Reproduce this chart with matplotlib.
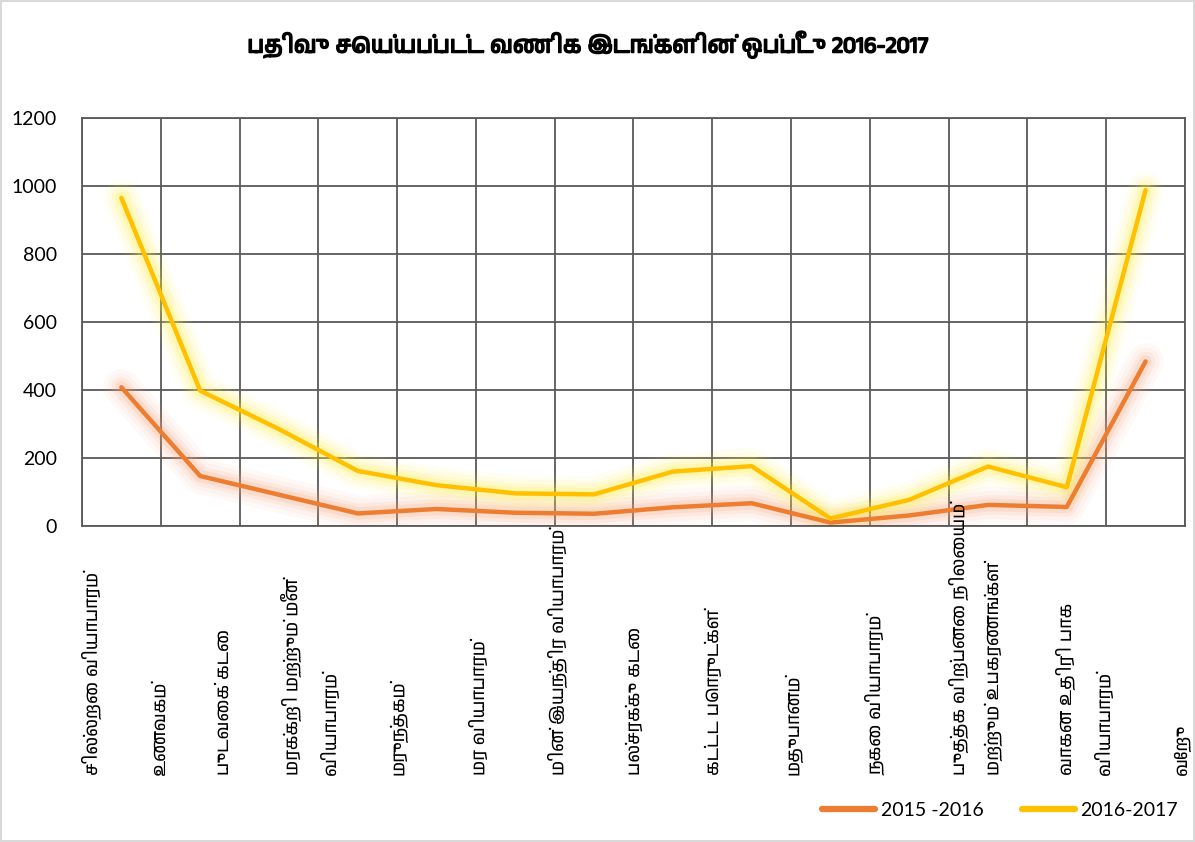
import matplotlib
matplotlib.use("Agg")
import matplotlib.pyplot as plt
import matplotlib.transforms as mtransforms
import matplotlib.patheffects as pe
from matplotlib import font_manager as fm

# data
categories = [
    "சில்லறை வியாபாரம்",
    "உணவகம்",
    "புடவைக் கடை",
    "மரக்கறி மற்றும் மீன்\nவியாபாரம்",
    "மருந்தகம்",
    "மர வியாபாரம்",
    "மின் இயந்திர வியாபாரம்",
    "பல்சரக்கு கடை",
    "கட்டட பொருட்கள்",
    "மதுபானம்",
    "நகை வியாபாரம்",
    "புத்தக விற்பனை நிலையம்\nமற்றும் உபகரணங்கள்",
    "வாகன உதிரி பாக\nவியாபாரம்",
    "வேறு",
]
y_2015_16 = [408, 147, 92, 37, 50, 39, 36, 55, 67, 10, 31, 62, 56, 484]
y_2016_17 = [965, 398, 285, 162, 120, 96, 93, 160, 176, 22, 77, 175, 114, 988]
series_names = ["2015 -2016", "2016-2017"]
title = "பதிவு செய்யப்பட்ட வணிக இடங்களின் ஒப்பீடு 2016-2017"

# layout only: where Excel dropped each category label, in category units
label_shift = [-0.37, -0.51, -0.69, -0.61, -0.48, -0.47, -0.46,
               -0.49, -0.49, -0.47, -0.43, -0.15, 0.22, 0.47]

tamil = [f.name for f in fm.fontManager.ttflist
         if "tamil" in f.name.lower() or "lohit" in f.name.lower()]
tamil_family = tamil[:1] + ["Noto Sans", "DejaVu Sans"]
num_family = ["Lato", "DejaVu Sans"]

orange = "#ED7D31"
yellow = "#FFC000"
grid_col = "#595959"

fig = plt.figure(figsize=(11.95, 8.42), dpi=100)
fig.patch.set_edgecolor("#D9D9D9")
fig.patch.set_linewidth(1.5)
ax = fig.add_axes([0.0686, 0.3753, 0.923, 0.4846])

x = list(range(len(categories)))

# soft glow under the lines
for ys, glow in [(y_2015_16, "#F7A27A"), (y_2016_17, "#FFEE33")]:
    for lw, a in [(26, 0.06), (20, 0.08), (14, 0.12), (9, 0.18)]:
        ax.plot(x, ys, color=glow, lw=lw, alpha=a, solid_capstyle="round",
                solid_joinstyle="round", zorder=2)

l1, = ax.plot(x, y_2015_16, color=orange, lw=3.2, solid_capstyle="round",
              solid_joinstyle="round", zorder=3, label=series_names[0])
l2, = ax.plot(x, y_2016_17, color=yellow, lw=3.2, solid_capstyle="round",
              solid_joinstyle="round", zorder=3, label=series_names[1])

ax.set_xlim(-0.5, len(categories) - 0.5)
ax.set_ylim(0, 1200)
ax.set_yticks(range(0, 1201, 200))
ax.set_xticks([i - 0.5 for i in range(len(categories) + 1)])
ax.set_xticklabels([])
ax.grid(True, color=grid_col, lw=1.3, zorder=1)
ax.tick_params(length=0, pad=18)
for s in ax.spines.values():
    s.set_color(grid_col)
    s.set_linewidth(1.3)
for t in ax.get_yticklabels():
    t.set_family(num_family)
    t.set_fontsize(14)
    t.set_color("#000000")

# rotated category labels below the plot
trans = mtransforms.blended_transform_factory(ax.transData, fig.transFigure)
for i, lab in enumerate(categories):
    ax.text(i + label_shift[i], 0.0796, lab, rotation=90, transform=trans,
            ha="center", va="bottom", multialignment="left", linespacing=2.1,
            fontsize=13, family=tamil_family, color="#000000", clip_on=False)

fig.text(0.492, 0.947, title, ha="center", va="center", fontsize=16.5,
         fontweight="bold", family=tamil_family, color="#000000",
         path_effects=[pe.withStroke(linewidth=1.1, foreground="#000000")])

leg = fig.legend(handles=[l1, l2], loc="center", bbox_to_anchor=(0.837, 0.038),
                 ncol=2, frameon=False, handlelength=2.7, columnspacing=2.0,
                 handletextpad=0.3, prop={"family": num_family, "size": 14})
for h in leg.get_lines():
    h.set_linewidth(4.5)
for t in leg.get_texts():
    t.set_color("#000000")

fig.savefig("out.png", dpi=100)
